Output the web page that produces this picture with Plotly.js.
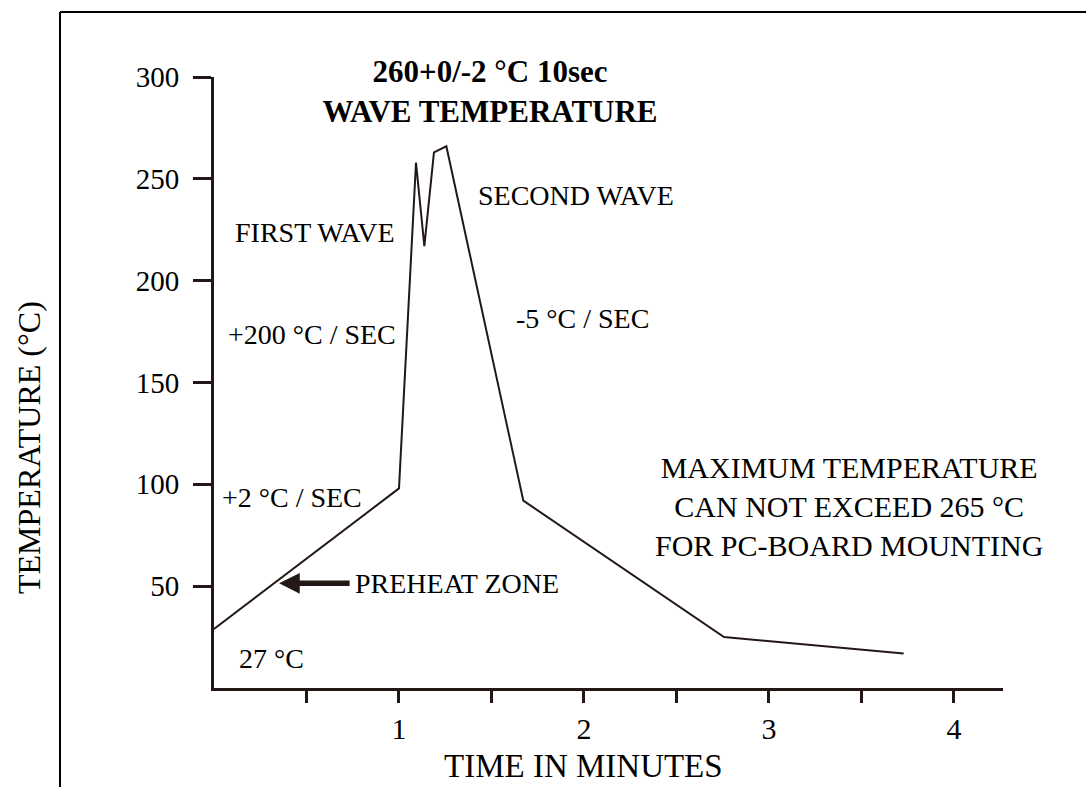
<!DOCTYPE html>
<html>
<head>
<meta charset="utf-8">
<script src="https://cdn.plot.ly/plotly-3.0.1.min.js"></script>
<style>html,body{margin:0;padding:0;background:#fff;}#chart{width:1086px;height:787px;}</style>
</head>
<body>
<div id="chart"></div>
<script>
// Data
var timeMin = [0, 1.0, 1.092, 1.137, 1.189, 1.256, 1.672, 2.757, 3.728];
var tempC   = [29, 98, 258, 217, 263, 266, 92, 25, 17];
var xTickVals = [0.5, 1, 1.5, 2, 2.5, 3, 3.5, 4];
var xTickText = ['', '1', '', '2', '', '3', '', '4'];
var yTickVals = [50, 100, 150, 200, 250, 300];
var titleText = '<b>260+0/-2 °C 10sec<br>WAVE TEMPERATURE</b>';
var xTitle = 'TIME IN MINUTES';
var yTitle = 'TEMPERATURE (°C)';
var noteLabels = ['FIRST WAVE', '+200 °C / SEC', '+2 °C / SEC', 'PREHEAT ZONE', '27 °C', 'SECOND WAVE', '-5 °C / SEC'];
var noteX = [0.103, 0.065, 0.033, 0.751, 0.125, 1.416, 1.621];
var noteY = [223.8, 173.7, 93.7, 51.4, 14.6, 241.9, 181.6];
var maxNote = 'MAXIMUM TEMPERATURE<br>CAN NOT EXCEED 265 °C<br>FOR PC-BOARD MOUNTING';

var ink = '#231815';
var serif = 'Liberation Serif, Times New Roman, serif';
var W = 1086, H = 787, ML = 214, MR = 83, MT = 77, MB = 99;
var PW = W - ML - MR, PH = H - MT - MB;

var annotations = noteLabels.map(function (t, i) {
  return {x: noteX[i], y: noteY[i], xref: 'x', yref: 'y', text: t, showarrow: false,
          xanchor: 'left', yanchor: 'middle', font: {family: serif, size: 28, color: '#000'}};
});
annotations.push({x: 3.43, y: 88.9, xref: 'x', yref: 'y', text: maxNote, showarrow: false,
  xanchor: 'center', yanchor: 'middle', align: 'center', font: {family: serif, size: 30, color: '#000'}});
// preheat arrow
annotations.push({x: 0.352, y: 51.4, xref: 'x', yref: 'y', text: '', showarrow: true,
  ax: 72, ay: 0, axref: 'pixel', ayref: 'pixel', arrowhead: 2, arrowsize: 0.75, arrowwidth: 5.5,
  arrowcolor: ink, standoff: 0, startstandoff: 0});
// axis titles (placed where the reference has them)
annotations.push({x: (583 - ML) / PW, y: (H - MB - 766) / PH, xref: 'paper', yref: 'paper', text: xTitle,
  showarrow: false, xanchor: 'center', yanchor: 'middle', font: {family: serif, size: 33, color: '#000'}});
annotations.push({x: (29 - ML) / PW, y: (H - MB - 448) / PH, xref: 'paper', yref: 'paper', text: yTitle,
  showarrow: false, xanchor: 'center', yanchor: 'middle', textangle: -90, font: {family: serif, size: 32, color: '#000'}});

var trace = {x: timeMin, y: tempC, type: 'scatter', mode: 'lines',
  line: {color: ink, width: 2}, hoverinfo: 'skip', cliponaxis: false};

var layout = {
  width: W, height: H,
  margin: {l: ML, r: MR, t: MT, b: MB, pad: 0},
  paper_bgcolor: '#fff', plot_bgcolor: '#fff',
  showlegend: false,
  title: {text: titleText, x: 490 / W, xanchor: 'center', xref: 'container',
          y: 1 - 82 / H, yanchor: 'middle', yref: 'container',
          font: {family: serif, size: 31, color: '#000'}},
  xaxis: {range: [0, 4.265], showgrid: false, zeroline: false, showline: true, linecolor: ink, linewidth: 3,
          ticks: 'outside', ticklen: 12, tickwidth: 3, tickcolor: ink,
          tickmode: 'array', tickvals: xTickVals, ticktext: xTickText,
          tickfont: {family: serif, size: 30, color: '#000'},
          automargin: false, fixedrange: true},
  yaxis: {range: [0, 300], showgrid: false, zeroline: false, showline: true, linecolor: ink, linewidth: 3,
          ticks: 'outside', ticklen: 18, tickwidth: 3, tickcolor: ink,
          tickmode: 'array', tickvals: yTickVals, ticklabelstandoff: 8,
          tickfont: {family: serif, size: 29, color: '#000'},
          automargin: false, fixedrange: true},
  shapes: [
    {type: 'line', xref: 'paper', yref: 'paper', x0: (60 - ML) / PW, x1: (60 - ML) / PW,
     y0: -130 / PH, y1: (H - MB - 12) / PH, line: {color: '#000', width: 2}},
    {type: 'line', xref: 'paper', yref: 'paper', x0: (60 - ML) / PW, x1: (W + 20 - ML) / PW,
     y0: (H - MB - 12) / PH, y1: (H - MB - 12) / PH, line: {color: '#000', width: 2}}
  ],
  annotations: annotations
};

Plotly.newPlot('chart', [trace], layout, {displayModeBar: false, staticPlot: true});
</script>
</body>
</html>
